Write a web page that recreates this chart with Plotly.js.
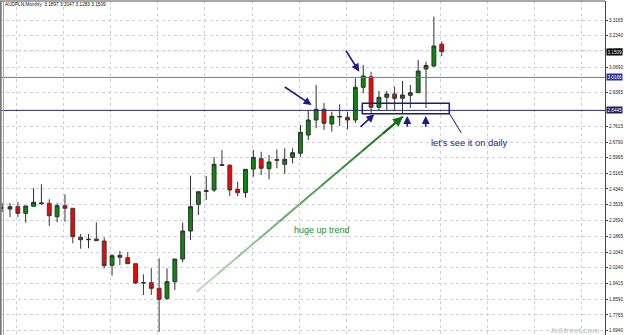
<!DOCTYPE html>
<html>
<head>
<meta charset="utf-8">
<script src="https://cdn.plot.ly/plotly-3.0.1.min.js"></script>
<style>html,body{margin:0;padding:0;background:#fff;}#chart{width:625px;height:335px;}</style>
</head>
<body>
<div id="chart"></div>
<script>
// Monthly AUDPLN candles (oldest -> newest)
const openP = [2.3347,2.3295,2.3415,2.3071,2.3436,2.3582,2.3593,2.2893,2.3467,2.3332,2.1817,2.1692,2.1728,2.1624,2.0355,2.0877,2.0752,2.0439,1.9457,1.9446,1.9154,1.8632,1.9499,2.0684,2.2146,2.3541,2.4209,2.4287,2.5619,2.5577,2.4324,2.4146,2.5384,2.5922,2.5400,2.5838,2.5629,2.5995,2.6204,2.7159,2.7943,2.8501,2.7734,2.8099,2.8084,2.7943,2.9650,3.0204,2.8606,2.9128,2.9300,2.9076,2.9232,2.9368,3.0606,3.0763,3.1897];
const highP = [2.3608,2.3608,2.3661,2.3452,2.4376,2.4585,2.3802,2.3593,2.4063,2.3332,2.1990,2.1990,2.2601,2.1817,2.0929,2.1102,2.1034,2.0439,1.9885,2.0198,2.0721,2.0198,2.0684,2.2580,2.5034,2.4198,2.5018,2.6010,2.6376,2.5645,2.4721,2.5368,2.6376,2.6287,2.6115,2.6412,2.6465,2.6465,2.7682,2.8465,2.9770,2.8830,2.8376,2.8763,2.8376,3.0120,3.0815,3.0465,2.9457,2.9457,2.9682,2.9979,2.9770,3.1076,3.0987,3.3337,3.2047];
const lowP  = [2.3138,2.2877,2.2877,2.2580,2.3436,2.3504,2.2407,2.2601,2.2632,2.1504,2.1222,2.1243,2.1640,2.0198,1.9812,2.0371,2.0439,1.9379,1.8804,1.8804,1.6872,1.8543,1.9065,2.0512,2.1676,2.2982,2.3765,2.4183,2.5540,2.3974,2.3974,2.3885,2.4982,2.5070,2.4846,2.5420,2.5123,2.5681,2.6026,2.6898,2.7509,2.7420,2.7332,2.7629,2.7457,2.7786,2.9337,2.8293,2.8465,2.8465,2.8465,2.8293,2.8569,2.9368,2.8569,3.0726,3.1283];
const closeP= [2.3352,2.3415,2.3071,2.3452,2.3645,2.3608,2.2945,2.3467,2.3332,2.1849,2.1692,2.1713,2.1640,2.0334,2.0856,2.0773,2.0439,1.9431,1.9436,1.9154,1.8580,1.9499,2.0684,2.2146,2.3415,2.4198,2.4251,2.5629,2.5567,2.4287,2.4146,2.5368,2.5995,2.5420,2.5749,2.5864,2.5890,2.6235,2.7300,2.7943,2.8501,2.7770,2.8136,2.8125,2.7943,2.9650,3.0240,2.8606,2.9128,2.9300,2.9076,2.9248,2.9368,3.0501,3.0789,3.1807,3.1509];

// price-axis labels
const yTickVals = [3.3165,3.2340,3.1575,3.0690,2.9365,2.7615,2.6790,2.5965,2.5165,2.4340,2.3535,2.2690,2.1865,2.1040,2.0240,1.9415,1.8590,1.7765,1.6940];

// marked levels
const lastPrice = 3.1509;
const resistanceLevel = 3.0166;
const supportLevel = 2.8445;
const headerText = "AUDPLN,Monthly  3.1897 3.2047 3.1283 3.1509";

const xIdx = openP.map((_, i) => i - 1);

const navy = '#1b1b8c';
const fontFam = 'Liberation Sans, Arial, sans-serif';

const trace = {
  type: 'candlestick',
  x: xIdx, open: openP, high: highP, low: lowP, close: closeP,
  increasing: {line: {color: '#2f2f2f', width: 1}, fillcolor: '#0a8a0a'},
  decreasing: {line: {color: '#3a3a3a', width: 1}, fillcolor: '#ff0000'},
  whiskerwidth: 0,
  hoverinfo: 'skip'
};

// green trend arrow shaft with fading colour
const gTail = [23.78, 1.8976], gHead = [50.06, 2.8125];
const shapes = [];
const nSeg = 10;
function mix(a, b, t){ return Math.round(a + (b - a) * t); }
for (let s = 0; s < nSeg; s++) {
  const t0 = s / nSeg, t1 = (s + 1) / nSeg;
  const c = 'rgb(' + mix(200, 15, t1) + ',' + mix(230, 115, t1) + ',' + mix(200, 15, t1) + ')';
  shapes.push({type: 'line', xref: 'x', yref: 'y',
    x0: gTail[0] + (gHead[0] - gTail[0]) * t0, y0: gTail[1] + (gHead[1] - gTail[1]) * t0,
    x1: gTail[0] + (gHead[0] - gTail[0]) * t1, y1: gTail[1] + (gHead[1] - gTail[1]) * t1,
    line: {color: c, width: 2}});
}
shapes.push(
  {type: 'line', xref: 'paper', yref: 'y', x0: 0, x1: 1, y0: lastPrice, y1: lastPrice, line: {color: '#ececf2', width: 1}, layer: 'below'},
  {type: 'line', xref: 'paper', yref: 'y', x0: 0, x1: 1, y0: resistanceLevel, y1: resistanceLevel, line: {color: '#6e6ec8', width: 1}},
  {type: 'line', xref: 'paper', yref: 'y', x0: 0, x1: 1, y0: supportLevel, y1: supportLevel, line: {color: '#2a2a6e', width: 1}},
  {type: 'rect', xref: 'x', yref: 'y', x0: 44.88, x1: 55.96, y0: 2.8272, y1: 2.8815, line: {color: '#1c1c7a', width: 1.5}, fillcolor: 'rgba(0,0,0,0)'},
  {type: 'line', xref: 'x', yref: 'y', x0: 55.96, y0: 2.8293, x1: 57.5, y1: 2.7264, line: {color: '#1c1c7a', width: 1}},
  {type: 'line', xref: 'paper', yref: 'paper', x0: 0.0012, x1: 0.0012, y0: 0, y1: 1, line: {color: '#7a7a7a', width: 2}},
  {type: 'line', xref: 'paper', yref: 'paper', x0: 0.0058, x1: 0.0058, y0: 0, y1: 1, line: {color: '#a8a8a8', width: 1}},
  {type: 'line', xref: 'paper', yref: 'paper', x0: 0, x1: 1, y0: 1, y1: 1, line: {color: '#8a8a8a', width: 1.5}}
);

function arrow(tx, ty, hx, hy, color, w) {
  return {xref: 'x', yref: 'y', axref: 'x', ayref: 'y', x: hx, y: hy, ax: tx, ay: ty,
    text: '', showarrow: true, arrowhead: 2, arrowsize: 1, arrowwidth: w, arrowcolor: color, standoff: 0};
}
function levelLabel(v, bg) {
  return {xref: 'paper', yref: 'y', x: 1, y: v, xanchor: 'left', yanchor: 'middle', xshift: 1,
    text: v.toFixed(4), showarrow: false, bgcolor: bg, borderpad: 0.5,
    font: {family: fontFam, size: 4.6, color: '#ffffff'}};
}

const annotations = [
  arrow(34.82, 2.9718, 38.43, 2.8726, navy, 1.6),
  arrow(42.68, 3.1635, 44.50, 3.0465, navy, 1.6),
  arrow(44.46, 2.7509, 46.41, 2.8240, navy, 1.6),
  arrow(50.61, 2.7509, 50.61, 2.8152, navy, 1.6),
  arrow(52.96, 2.7509, 52.96, 2.8152, navy, 1.6),
  arrow(47.4, 2.7196, gHead[0], gHead[1], '#0f730f', 2),
  {xref: 'x', yref: 'y', x: 39.75, y: 2.2198, text: 'huge up trend', showarrow: false,
    font: {family: fontFam, size: 9, color: '#1f8f1f'}},
  {xref: 'x', yref: 'y', x: 58.6, y: 2.6768, text: "let's see it on daily", showarrow: false,
    font: {family: fontFam, size: 9.4, color: '#1f1f96'}},
  {xref: 'paper', yref: 'paper', x: 0.005, y: 0.9895, xanchor: 'left', yanchor: 'middle', text: headerText,
    showarrow: false, font: {family: fontFam, size: 4.7, color: '#111'}},
  levelLabel(lastPrice, '#000000'),
  levelLabel(resistanceLevel, '#2e2e96'),
  levelLabel(supportLevel, '#1e1e5e'),
  {xref: 'paper', yref: 'paper', x: 0.993, y: 0.012, xanchor: 'right', yanchor: 'middle', text: '<i><b>fxStreet.com</b></i>',
    showarrow: false, font: {family: fontFam, size: 8, color: 'rgba(185,185,185,0.75)'}}
];

const layout = {
  width: 625, height: 335,
  margin: {l: 0, r: 20, t: 1, b: 0},
  paper_bgcolor: '#ffffff', plot_bgcolor: '#ffffff',
  showlegend: false,
  boxgap: 0.3,
  xaxis: {range: [-1.274, 75.8], rangeslider: {visible: false}, showgrid: true, gridcolor: '#cfcfe0', griddash: 'dot', gridwidth: 1,
    tick0: 0.83, dtick: 6, showticklabels: false, ticks: '', zeroline: false, showline: false, fixedrange: true},
  yaxis: {side: 'right', range: [1.6715, 3.4157], tickvals: yTickVals, tickformat: '.4f',
    ticks: 'outside', ticklen: 2, tickcolor: '#444', showline: true, linecolor: '#444', linewidth: 1,
    tickfont: {family: fontFam, size: 4.6, color: '#222'}, showgrid: true, gridcolor: '#cfcfe0', griddash: 'dot',
    zeroline: false, fixedrange: true},
  shapes: shapes,
  annotations: annotations
};

Plotly.newPlot('chart', [trace], layout, {displayModeBar: false, staticPlot: true});
</script>
</body>
</html>
